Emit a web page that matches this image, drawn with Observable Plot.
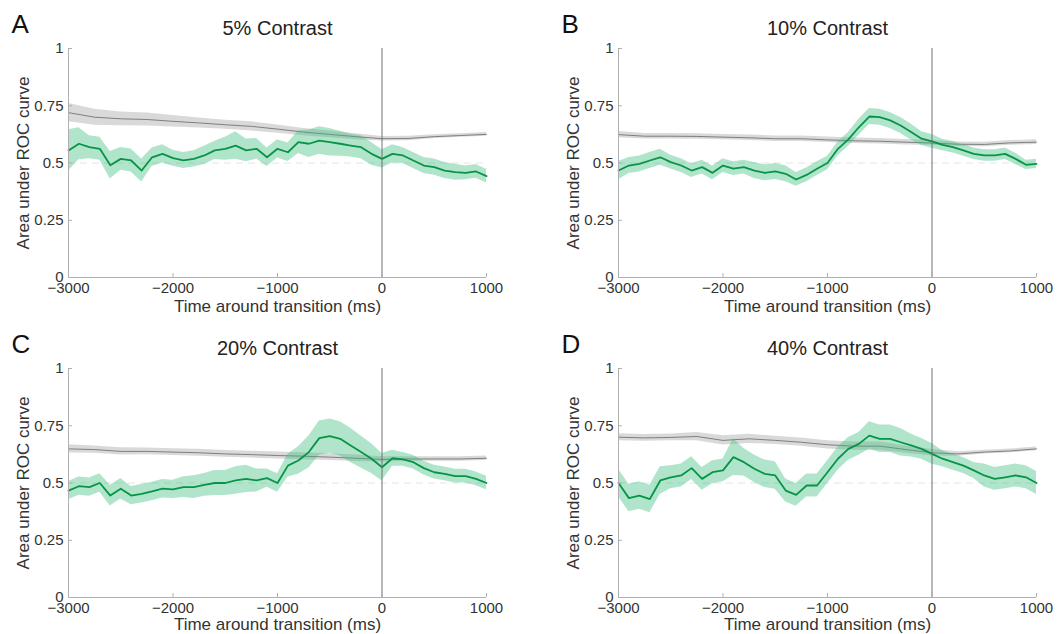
<!DOCTYPE html>
<html><head><meta charset="utf-8">
<script src="https://cdn.jsdelivr.net/npm/d3@7"></script>
<script src="https://cdn.jsdelivr.net/npm/@observablehq/plot@0.6"></script>
<style>
body{margin:0;background:#fff;font-family:"Liberation Sans",Arial,Helvetica,sans-serif;}
#wrap{position:relative;width:1057px;height:634px;overflow:hidden;background:#fff}
.panel{position:absolute}
</style></head><body><div id="wrap"></div>
<script>
const timeGreen = [-3000,-2900,-2800,-2700,-2600,-2500,-2400,-2300,-2200,-2100,-2000,-1900,-1800,-1700,-1600,-1500,-1400,-1300,-1200,-1100,-1000,-900,-800,-700,-600,-500,-400,-300,-200,-100,0,100,200,300,400,500,600,700,800,900,1000];
const timeGray = [-3000,-2750,-2500,-2250,-2000,-1750,-1500,-1250,-1000,-750,-500,-250,0,250,500,750,1000];
const xTicks = [-3000,-2000,-1000,0,1000];
const yTicks = [0,0.25,0.5,0.75,1];
const letters = ["A","B","C","D"];
const titles = ["5% Contrast","10% Contrast","20% Contrast","40% Contrast"];
const xLabel = "Time around transition (ms)";
const yLabel = "Area under ROC curve";

const greenA = [0.555,0.584,0.569,0.562,0.49,0.518,0.511,0.467,0.525,0.54,0.521,0.511,0.518,0.533,0.555,0.562,0.576,0.555,0.562,0.525,0.562,0.547,0.591,0.584,0.598,0.591,0.584,0.576,0.569,0.54,0.518,0.54,0.533,0.511,0.489,0.482,0.467,0.46,0.457,0.463,0.443];
const greenHwA = [0.09,0.07,0.05,0.05,0.06,0.05,0.05,0.05,0.04,0.04,0.035,0.035,0.035,0.04,0.04,0.05,0.06,0.05,0.045,0.04,0.04,0.04,0.05,0.06,0.06,0.06,0.055,0.05,0.05,0.05,0.04,0.04,0.035,0.035,0.035,0.035,0.035,0.035,0.03,0.03,0.03];
const greenB = [0.467,0.489,0.496,0.511,0.525,0.504,0.489,0.467,0.482,0.457,0.489,0.475,0.482,0.467,0.457,0.463,0.453,0.428,0.448,0.475,0.50,0.562,0.603,0.656,0.703,0.70,0.686,0.664,0.635,0.606,0.594,0.579,0.569,0.555,0.54,0.533,0.533,0.54,0.518,0.492,0.496];
const greenHwB = [0.04,0.035,0.035,0.035,0.035,0.03,0.03,0.03,0.03,0.03,0.03,0.03,0.03,0.035,0.035,0.035,0.035,0.03,0.03,0.03,0.03,0.03,0.03,0.035,0.035,0.035,0.035,0.035,0.035,0.03,0.03,0.025,0.025,0.025,0.025,0.025,0.025,0.025,0.025,0.02,0.02];
const greenC = [0.467,0.486,0.482,0.50,0.445,0.475,0.445,0.453,0.463,0.475,0.472,0.482,0.482,0.492,0.50,0.50,0.511,0.518,0.511,0.521,0.50,0.576,0.598,0.635,0.696,0.705,0.693,0.664,0.635,0.606,0.569,0.608,0.603,0.591,0.565,0.547,0.54,0.53,0.53,0.518,0.50];
const greenHwC = [0.04,0.04,0.04,0.04,0.045,0.045,0.04,0.04,0.04,0.04,0.04,0.045,0.05,0.05,0.055,0.055,0.06,0.06,0.05,0.04,0.04,0.05,0.06,0.07,0.075,0.075,0.075,0.075,0.07,0.065,0.06,0.035,0.03,0.03,0.03,0.03,0.03,0.03,0.03,0.03,0.03];
const greenD = [0.50,0.434,0.445,0.43,0.511,0.525,0.533,0.565,0.518,0.547,0.555,0.613,0.591,0.562,0.54,0.533,0.467,0.448,0.489,0.489,0.547,0.606,0.649,0.671,0.707,0.693,0.693,0.678,0.664,0.649,0.627,0.606,0.591,0.576,0.555,0.533,0.518,0.525,0.533,0.525,0.50];
const greenHwD = [0.06,0.06,0.06,0.06,0.06,0.05,0.05,0.05,0.05,0.05,0.05,0.08,0.06,0.06,0.06,0.06,0.05,0.05,0.05,0.05,0.05,0.05,0.05,0.05,0.06,0.06,0.06,0.06,0.05,0.045,0.045,0.035,0.035,0.035,0.035,0.05,0.05,0.05,0.05,0.05,0.05];

const grayA = [0.72,0.70,0.693,0.69,0.682,0.675,0.667,0.66,0.648,0.635,0.625,0.615,0.606,0.607,0.615,0.62,0.625];
const grayHwA = [0.04,0.035,0.03,0.028,0.025,0.022,0.02,0.02,0.018,0.016,0.015,0.013,0.01,0.01,0.008,0.008,0.008];
const grayB = [0.624,0.617,0.617,0.616,0.613,0.61,0.606,0.606,0.601,0.597,0.595,0.591,0.587,0.582,0.581,0.588,0.591];
const grayHwB = [0.014,0.012,0.012,0.012,0.012,0.012,0.012,0.012,0.012,0.012,0.012,0.012,0.01,0.01,0.01,0.01,0.01];
const grayC = [0.649,0.646,0.638,0.638,0.635,0.632,0.627,0.624,0.62,0.617,0.613,0.608,0.603,0.605,0.605,0.605,0.608];
const grayHwC = [0.018,0.016,0.016,0.015,0.015,0.015,0.015,0.015,0.015,0.015,0.015,0.014,0.012,0.01,0.01,0.01,0.01];
const grayD = [0.70,0.697,0.699,0.703,0.686,0.693,0.686,0.678,0.667,0.661,0.661,0.646,0.632,0.627,0.635,0.64,0.649];
const grayHwD = [0.015,0.015,0.015,0.018,0.02,0.02,0.018,0.018,0.018,0.018,0.018,0.016,0.014,0.01,0.008,0.008,0.008];

const greens = [greenA, greenB, greenC, greenD];
const greenHws = [greenHwA, greenHwB, greenHwC, greenHwD];
const grays = [grayA, grayB, grayC, grayD];
const grayHws = [grayHwA, grayHwB, grayHwC, grayHwD];

const pos = [[0,0],[550,0],[0,320],[550,320]];
const fmtX = d => (d < 0 ? "\u2212" : "") + Math.abs(d);
const fmtY = d => String(d);
const font = '"Liberation Sans", Arial, Helvetica, sans-serif';

const wrap = document.getElementById("wrap");
for (let p = 0; p < 4; p++) {
  const top = p < 2;
  const W = 507, H = top ? 320 : 314;
  const mL = 68, mR = 21, mT = 48, mB = top ? 43 : 37;
  const innerW = W - mL - mR, innerH = H - mT - mB;
  const g = timeGreen.map((t, i) => ({t, m: greens[p][i], lo: greens[p][i] - greenHws[p][i], hi: greens[p][i] + greenHws[p][i]}));
  const s = timeGray.map((t, i) => ({t, m: grays[p][i], lo: grays[p][i] - grayHws[p][i], hi: grays[p][i] + grayHws[p][i]}));
  const chart = Plot.plot({
    width: W, height: H,
    marginLeft: mL, marginRight: mR, marginTop: mT, marginBottom: mB,
    style: {fontFamily: font, background: "#fff", overflow: "visible"},
    x: {domain: [-3000, 1000]},
    y: {domain: [0, 1]},
    marks: [
      Plot.ruleY([0.5], {stroke: "#e4e4e4", strokeDasharray: "7,5"}),
      Plot.areaY(s, {x: "t", y1: "lo", y2: "hi", fill: "#9a9a9a", fillOpacity: 0.38}),
      Plot.lineY(s, {x: "t", y: "m", stroke: "#7f7f7f", strokeWidth: 1}),
      Plot.areaY(g, {x: "t", y1: "lo", y2: "hi", fill: "#3cbf7c", fillOpacity: 0.4}),
      Plot.lineY(g, {x: "t", y: "m", stroke: "#079447", strokeWidth: 1.8}),
      Plot.ruleX([0], {stroke: "#707070", strokeWidth: 1}),
      Plot.ruleX([-3000], {stroke: "#b0b0b0"}),
      Plot.ruleY([0], {stroke: "#b0b0b0"}),
      Plot.tickX(xTicks, {x: d => d, insetTop: innerH - 4, stroke: "#b0b0b0"}),
      Plot.tickY(yTicks, {y: d => d, insetRight: innerW - 4, stroke: "#b0b0b0"}),
      Plot.axisX({ticks: xTicks, tickSize: 0, tickPadding: 5, tickFormat: fmtX, fontSize: 15, color: "#333", label: null}),
      Plot.axisY({ticks: yTicks, tickSize: 0, tickPadding: 5, tickFormat: fmtY, fontSize: 15, color: "#333", label: null}),
      Plot.text([xLabel], {text: d => d, frameAnchor: "bottom", dy: top ? 29 : 27, textAnchor: "middle", lineAnchor: "middle", fontSize: 17, fill: "#333"}),
      Plot.text([yLabel], {text: d => d, frameAnchor: "left", dx: -45, rotate: -90, textAnchor: "middle", lineAnchor: "middle", fontSize: 17, fill: "#333"}),
      Plot.text([titles[p]], {text: d => d, frameAnchor: "top", dy: -20, textAnchor: "middle", lineAnchor: "middle", fontSize: 20, fill: "#222"}),
      Plot.text([letters[p]], {text: d => d, frameAnchor: "top-left", dx: -57, dy: -24, textAnchor: "start", lineAnchor: "middle", fontSize: 26, fill: "#111"})
    ]
  });
  const div = document.createElement("div");
  div.className = "panel";
  div.style.left = pos[p][0] + "px";
  div.style.top = pos[p][1] + "px";
  div.appendChild(chart);
  wrap.appendChild(div);
}
</script>
</body></html>
